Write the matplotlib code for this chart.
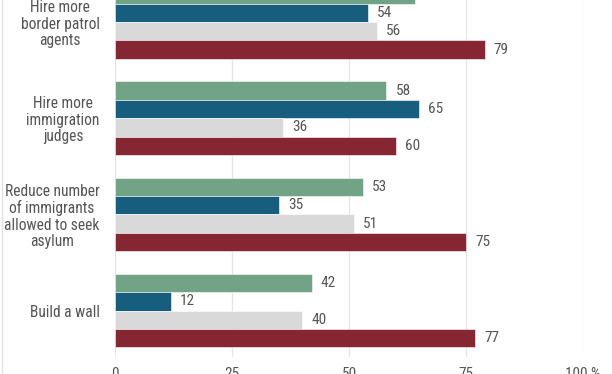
import matplotlib.pyplot as plt
from matplotlib.lines import Line2D
import numpy as np

plt.rcParams['font.family'] = ['Roboto Condensed', 'Roboto', 'DejaVu Sans']

categories = [
    "Hire more\nborder patrol\nagents",
    "Hire more\nimmigration\njudges",
    "Reduce number\nof immigrants\nallowed to seek\nasylum",
    "Build a wall",
]
# four series per category, top to bottom
series_green = [64, 58, 53, 42]
series_blue = [54, 65, 35, 12]
series_gray = [56, 36, 51, 40]
series_red = [79, 60, 75, 77]

tick_values = [0, 25, 50, 75, 100]
tick_labels = ["0", "25", "50", "75", "100 %"]


def main():
    fig = plt.figure(figsize=(6.12, 3.74), dpi=100)
    # axes runs past the top edge: the reference is a crop of a taller chart
    ax = fig.add_axes([115 / 612, 17 / 374, 468 / 612, 381.2 / 374])

    h = 0.191
    y = np.arange(len(categories))
    series = [series_green, series_blue, series_gray, series_red]
    colors = ['#71a387', '#175e7e', '#d9d9d9', '#862633']
    txt = '#555555'

    for i, (vals, col) in enumerate(zip(series, colors)):
        pos = y + (i - 1.5) * h
        ax.barh(pos, vals, height=h, color=col, edgecolor='white', linewidth=0.4, zorder=2)
        for p, v in zip(pos, vals):
            ax.annotate(str(v), (v, p), xytext=(6.5, 0), textcoords='offset points',
                        ha='left', va='center', fontsize=11, color=txt)

    ax.set_xlim(0, 100)
    ax.set_ylim(3.483, -0.48)
    ax.set_yticks(y)
    ax.set_yticklabels(categories, multialignment='center', fontsize=11.2,
                       color=txt, linespacing=1.12)
    ax.set_xticks(tick_values)
    ax.set_xticklabels(tick_labels, fontsize=11, color=txt)
    ax.tick_params(axis='both', length=0)
    ax.tick_params(axis='y', pad=11)
    ax.tick_params(axis='x', pad=7)
    ax.grid(axis='x', color='#e6e6e6', linewidth=1, zorder=0)
    ax.set_axisbelow(True)
    for s in ax.spines.values():
        s.set_visible(False)

    # thin chart border on the left
    fig.add_artist(Line2D([2 / 612, 2 / 612], [0, 1], color='#e2e2e2', linewidth=1))

    plt.savefig("out.png", dpi=100)


if __name__ == "__main__":
    main()
